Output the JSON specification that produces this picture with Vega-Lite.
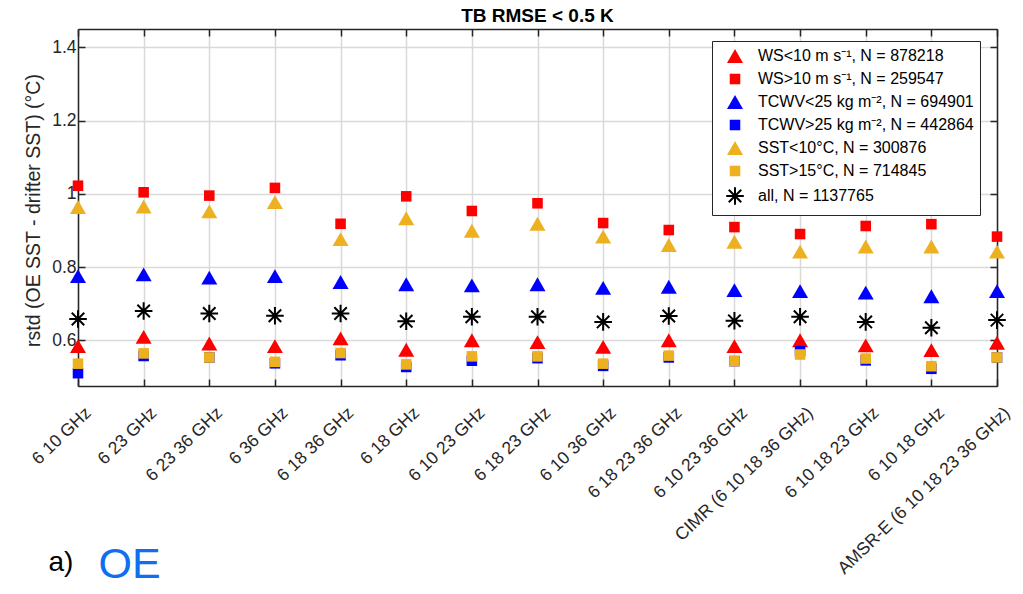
{
  "$schema": "https://vega.github.io/schema/vega-lite/v6.json",
  "width": 919,
  "height": 357,
  "autosize": {"type": "none"},
  "padding": {"left": 78, "top": 29, "right": 26, "bottom": 208},
  "background": "white",
  "config": {"font": "Liberation Sans", "view": {"stroke": null}},
  "title": {"text": "TB RMSE < 0.5 K", "fontSize": 19, "fontWeight": "bold", "color": "#000000", "offset": 2, "anchor": "middle"},
  "datasets": {
    "pts": [
      {"cat": "6 10 GHz", "series": "WS<10 m s⁻¹, N = 878218", "v": 0.584},
      {"cat": "6 10 GHz", "series": "WS>10 m s⁻¹, N = 259547", "v": 1.022},
      {"cat": "6 10 GHz", "series": "TCWV<25 kg m⁻², N = 694901", "v": 0.775},
      {"cat": "6 10 GHz", "series": "TCWV>25 kg m⁻², N = 442864", "v": 0.510},
      {"cat": "6 10 GHz", "series": "SST<10°C, N = 300876", "v": 0.964},
      {"cat": "6 10 GHz", "series": "SST>15°C, N = 714845", "v": 0.536},
      {"cat": "6 10 GHz", "series": "all, N = 1137765", "v": 0.658},

      {"cat": "6 23 GHz", "series": "WS<10 m s⁻¹, N = 878218", "v": 0.609},
      {"cat": "6 23 GHz", "series": "WS>10 m s⁻¹, N = 259547", "v": 1.004},
      {"cat": "6 23 GHz", "series": "TCWV<25 kg m⁻², N = 694901", "v": 0.780},
      {"cat": "6 23 GHz", "series": "TCWV>25 kg m⁻², N = 442864", "v": 0.557},
      {"cat": "6 23 GHz", "series": "SST<10°C, N = 300876", "v": 0.965},
      {"cat": "6 23 GHz", "series": "SST>15°C, N = 714845", "v": 0.564},
      {"cat": "6 23 GHz", "series": "all, N = 1137765", "v": 0.680},

      {"cat": "6 23 36 GHz", "series": "WS<10 m s⁻¹, N = 878218", "v": 0.591},
      {"cat": "6 23 36 GHz", "series": "WS>10 m s⁻¹, N = 259547", "v": 0.995},
      {"cat": "6 23 36 GHz", "series": "TCWV<25 kg m⁻², N = 694901", "v": 0.771},
      {"cat": "6 23 36 GHz", "series": "TCWV>25 kg m⁻², N = 442864", "v": 0.553},
      {"cat": "6 23 36 GHz", "series": "SST<10°C, N = 300876", "v": 0.952},
      {"cat": "6 23 36 GHz", "series": "SST>15°C, N = 714845", "v": 0.553},
      {"cat": "6 23 36 GHz", "series": "all, N = 1137765", "v": 0.673},

      {"cat": "6 36 GHz", "series": "WS<10 m s⁻¹, N = 878218", "v": 0.584},
      {"cat": "6 36 GHz", "series": "WS>10 m s⁻¹, N = 259547", "v": 1.016},
      {"cat": "6 36 GHz", "series": "TCWV<25 kg m⁻², N = 694901", "v": 0.775},
      {"cat": "6 36 GHz", "series": "TCWV>25 kg m⁻², N = 442864", "v": 0.537},
      {"cat": "6 36 GHz", "series": "SST<10°C, N = 300876", "v": 0.977},
      {"cat": "6 36 GHz", "series": "SST>15°C, N = 714845", "v": 0.541},
      {"cat": "6 36 GHz", "series": "all, N = 1137765", "v": 0.667},

      {"cat": "6 18 36 GHz", "series": "WS<10 m s⁻¹, N = 878218", "v": 0.605},
      {"cat": "6 18 36 GHz", "series": "WS>10 m s⁻¹, N = 259547", "v": 0.918},
      {"cat": "6 18 36 GHz", "series": "TCWV<25 kg m⁻², N = 694901", "v": 0.759},
      {"cat": "6 18 36 GHz", "series": "TCWV>25 kg m⁻², N = 442864", "v": 0.559},
      {"cat": "6 18 36 GHz", "series": "SST<10°C, N = 300876", "v": 0.876},
      {"cat": "6 18 36 GHz", "series": "SST>15°C, N = 714845", "v": 0.565},
      {"cat": "6 18 36 GHz", "series": "all, N = 1137765", "v": 0.673},

      {"cat": "6 18 GHz", "series": "WS<10 m s⁻¹, N = 878218", "v": 0.574},
      {"cat": "6 18 GHz", "series": "WS>10 m s⁻¹, N = 259547", "v": 0.993},
      {"cat": "6 18 GHz", "series": "TCWV<25 kg m⁻², N = 694901", "v": 0.753},
      {"cat": "6 18 GHz", "series": "TCWV>25 kg m⁻², N = 442864", "v": 0.527},
      {"cat": "6 18 GHz", "series": "SST<10°C, N = 300876", "v": 0.933},
      {"cat": "6 18 GHz", "series": "SST>15°C, N = 714845", "v": 0.534},
      {"cat": "6 18 GHz", "series": "all, N = 1137765", "v": 0.652},

      {"cat": "6 10 23 GHz", "series": "WS<10 m s⁻¹, N = 878218", "v": 0.600},
      {"cat": "6 10 23 GHz", "series": "WS>10 m s⁻¹, N = 259547", "v": 0.953},
      {"cat": "6 10 23 GHz", "series": "TCWV<25 kg m⁻², N = 694901", "v": 0.750},
      {"cat": "6 10 23 GHz", "series": "TCWV>25 kg m⁻², N = 442864", "v": 0.544},
      {"cat": "6 10 23 GHz", "series": "SST<10°C, N = 300876", "v": 0.899},
      {"cat": "6 10 23 GHz", "series": "SST>15°C, N = 714845", "v": 0.556},
      {"cat": "6 10 23 GHz", "series": "all, N = 1137765", "v": 0.664},

      {"cat": "6 18 23 GHz", "series": "WS<10 m s⁻¹, N = 878218", "v": 0.595},
      {"cat": "6 18 23 GHz", "series": "WS>10 m s⁻¹, N = 259547", "v": 0.974},
      {"cat": "6 18 23 GHz", "series": "TCWV<25 kg m⁻², N = 694901", "v": 0.753},
      {"cat": "6 18 23 GHz", "series": "TCWV>25 kg m⁻², N = 442864", "v": 0.551},
      {"cat": "6 18 23 GHz", "series": "SST<10°C, N = 300876", "v": 0.918},
      {"cat": "6 18 23 GHz", "series": "SST>15°C, N = 714845", "v": 0.556},
      {"cat": "6 18 23 GHz", "series": "all, N = 1137765", "v": 0.664},

      {"cat": "6 10 36 GHz", "series": "WS<10 m s⁻¹, N = 878218", "v": 0.582},
      {"cat": "6 10 36 GHz", "series": "WS>10 m s⁻¹, N = 259547", "v": 0.920},
      {"cat": "6 10 36 GHz", "series": "TCWV<25 kg m⁻², N = 694901", "v": 0.743},
      {"cat": "6 10 36 GHz", "series": "TCWV>25 kg m⁻², N = 442864", "v": 0.530},
      {"cat": "6 10 36 GHz", "series": "SST<10°C, N = 300876", "v": 0.883},
      {"cat": "6 10 36 GHz", "series": "SST>15°C, N = 714845", "v": 0.536},
      {"cat": "6 10 36 GHz", "series": "all, N = 1137765", "v": 0.650},

      {"cat": "6 18 23 36 GHz", "series": "WS<10 m s⁻¹, N = 878218", "v": 0.600},
      {"cat": "6 18 23 36 GHz", "series": "WS>10 m s⁻¹, N = 259547", "v": 0.901},
      {"cat": "6 18 23 36 GHz", "series": "TCWV<25 kg m⁻², N = 694901", "v": 0.746},
      {"cat": "6 18 23 36 GHz", "series": "TCWV>25 kg m⁻², N = 442864", "v": 0.553},
      {"cat": "6 18 23 36 GHz", "series": "SST<10°C, N = 300876", "v": 0.860},
      {"cat": "6 18 23 36 GHz", "series": "SST>15°C, N = 714845", "v": 0.558},
      {"cat": "6 18 23 36 GHz", "series": "all, N = 1137765", "v": 0.666},

      {"cat": "6 10 23 36 GHz", "series": "WS<10 m s⁻¹, N = 878218", "v": 0.584},
      {"cat": "6 10 23 36 GHz", "series": "WS>10 m s⁻¹, N = 259547", "v": 0.909},
      {"cat": "6 10 23 36 GHz", "series": "TCWV<25 kg m⁻², N = 694901", "v": 0.737},
      {"cat": "6 10 23 36 GHz", "series": "TCWV>25 kg m⁻², N = 442864", "v": 0.543},
      {"cat": "6 10 23 36 GHz", "series": "SST<10°C, N = 300876", "v": 0.869},
      {"cat": "6 10 23 36 GHz", "series": "SST>15°C, N = 714845", "v": 0.543},
      {"cat": "6 10 23 36 GHz", "series": "all, N = 1137765", "v": 0.653},

      {"cat": "CIMR (6 10 18 36 GHz)", "series": "WS<10 m s⁻¹, N = 878218", "v": 0.600},
      {"cat": "CIMR (6 10 18 36 GHz)", "series": "WS>10 m s⁻¹, N = 259547", "v": 0.890},
      {"cat": "CIMR (6 10 18 36 GHz)", "series": "TCWV<25 kg m⁻², N = 694901", "v": 0.734},
      {"cat": "CIMR (6 10 18 36 GHz)", "series": "TCWV>25 kg m⁻², N = 442864", "v": 0.570},
      {"cat": "CIMR (6 10 18 36 GHz)", "series": "SST<10°C, N = 300876", "v": 0.842},
      {"cat": "CIMR (6 10 18 36 GHz)", "series": "SST>15°C, N = 714845", "v": 0.561},
      {"cat": "CIMR (6 10 18 36 GHz)", "series": "all, N = 1137765", "v": 0.664},

      {"cat": "6 10 18 23 GHz", "series": "WS<10 m s⁻¹, N = 878218", "v": 0.586},
      {"cat": "6 10 18 23 GHz", "series": "WS>10 m s⁻¹, N = 259547", "v": 0.912},
      {"cat": "6 10 18 23 GHz", "series": "TCWV<25 kg m⁻², N = 694901", "v": 0.730},
      {"cat": "6 10 18 23 GHz", "series": "TCWV>25 kg m⁻², N = 442864", "v": 0.545},
      {"cat": "6 10 18 23 GHz", "series": "SST<10°C, N = 300876", "v": 0.856},
      {"cat": "6 10 18 23 GHz", "series": "SST>15°C, N = 714845", "v": 0.550},
      {"cat": "6 10 18 23 GHz", "series": "all, N = 1137765", "v": 0.650},

      {"cat": "6 10 18 GHz", "series": "WS<10 m s⁻¹, N = 878218", "v": 0.573},
      {"cat": "6 10 18 GHz", "series": "WS>10 m s⁻¹, N = 259547", "v": 0.917},
      {"cat": "6 10 18 GHz", "series": "TCWV<25 kg m⁻², N = 694901", "v": 0.720},
      {"cat": "6 10 18 GHz", "series": "TCWV>25 kg m⁻², N = 442864", "v": 0.522},
      {"cat": "6 10 18 GHz", "series": "SST<10°C, N = 300876", "v": 0.856},
      {"cat": "6 10 18 GHz", "series": "SST>15°C, N = 714845", "v": 0.529},
      {"cat": "6 10 18 GHz", "series": "all, N = 1137765", "v": 0.634},

      {"cat": "AMSR-E (6 10 18 23 36 GHz)", "series": "WS<10 m s⁻¹, N = 878218", "v": 0.593},
      {"cat": "AMSR-E (6 10 18 23 36 GHz)", "series": "WS>10 m s⁻¹, N = 259547", "v": 0.883},
      {"cat": "AMSR-E (6 10 18 23 36 GHz)", "series": "TCWV<25 kg m⁻², N = 694901", "v": 0.734},
      {"cat": "AMSR-E (6 10 18 23 36 GHz)", "series": "TCWV>25 kg m⁻², N = 442864", "v": 0.553},
      {"cat": "AMSR-E (6 10 18 23 36 GHz)", "series": "SST<10°C, N = 300876", "v": 0.842},
      {"cat": "AMSR-E (6 10 18 23 36 GHz)", "series": "SST>15°C, N = 714845", "v": 0.553},
      {"cat": "AMSR-E (6 10 18 23 36 GHz)", "series": "all, N = 1137765", "v": 0.655}
    ]
  },
  "data": {"name": "pts"},
  "layer": [
    {
      "transform": [{"filter": "datum.series !== 'all, N = 1137765'"}],
      "mark": {"type": "point", "filled": true, "size": 256, "strokeWidth": 2, "opacity": 1},
      "encoding": {
        "x": {
          "field": "cat", "type": "nominal", "sort": null,
          "scale": {"type": "point", "padding": 0, "domain": ["6 10 GHz","6 23 GHz","6 23 36 GHz","6 36 GHz","6 18 36 GHz","6 18 GHz","6 10 23 GHz","6 18 23 GHz","6 10 36 GHz","6 18 23 36 GHz","6 10 23 36 GHz","CIMR (6 10 18 36 GHz)","6 10 18 23 GHz","6 10 18 GHz","AMSR-E (6 10 18 23 36 GHz)"]},
          "axis": {
            "orient": "bottom", "title": "a)", "titleX": -30, "titleY": 184, "titleAlign": "left", "titleBaseline": "alphabetic", "titleAngle": 0,
            "titleFontSize": 28, "titleFontWeight": "normal", "titleColor": "#000000",
            "grid": true, "gridColor": "#d9d9d9", "gridWidth": 1.5,
            "ticks": true, "tickSize": -7, "tickColor": "#262626", "tickWidth": 1.5,
            "domain": true, "domainColor": "#262626", "domainWidth": 1.5,
            "labelAngle": -44, "labelAlign": "right", "labelBaseline": "middle", "labelOffset": 10, "labelPadding": 31,
            "labelFontSize": 17.5, "labelColor": "#262626", "labelOverlap": false, "labelBound": false, "labelLimit": 0
          }
        },
        "y": {
          "field": "v", "type": "quantitative",
          "scale": {"domain": [0.475, 1.45], "nice": false, "zero": false},
          "axis": {
            "orient": "left", "title": "rstd (OE SST - drifter SST) (°C)", "titleX": -45, "titleY": 181, "titleAlign": "center", "titleBaseline": "middle", "titleAngle": -90,
            "titleFontSize": 19.5, "titleFontWeight": "normal", "titleColor": "#262626",
            "values": [0.6, 0.8, 1, 1.2, 1.4], "format": "~g",
            "grid": true, "gridColor": "#d9d9d9", "gridWidth": 1.5,
            "tickSize": -7, "tickColor": "#262626", "tickWidth": 1.5,
            "domainColor": "#262626", "domainWidth": 1.5,
            "labelFontSize": 17.5, "labelColor": "#262626", "labelPadding": 9
          }
        },
        "color": {
          "field": "series", "type": "nominal",
          "scale": {"domain": ["WS<10 m s⁻¹, N = 878218","WS>10 m s⁻¹, N = 259547","TCWV<25 kg m⁻², N = 694901","TCWV>25 kg m⁻², N = 442864","SST<10°C, N = 300876","SST>15°C, N = 714845","all, N = 1137765"],
                    "range": ["#ff0000","#ff0000","#0000ff","#0000ff","#edb120","#edb120","#000000"]},
          "legend": {
            "title": null, "orient": "none", "legendX": 634, "legendY": 12,
            "padding": 6, "strokeColor": "#262626", "fillColor": "#ffffff",
            "labelFontSize": 16, "labelColor": "#000000", "labelLimit": 0, "labelOffset": 14,
            "symbolSize": 256, "symbolOffset": 8, "symbolStrokeWidth": 2, "rowPadding": 2
          }
        },
        "stroke": {
          "field": "series", "type": "nominal",
          "scale": {"domain": ["WS<10 m s⁻¹, N = 878218","WS>10 m s⁻¹, N = 259547","TCWV<25 kg m⁻², N = 694901","TCWV>25 kg m⁻², N = 442864","SST<10°C, N = 300876","SST>15°C, N = 714845","all, N = 1137765"],
                    "range": ["transparent","transparent","transparent","transparent","transparent","transparent","#000000"]},
          "legend": {
            "title": null, "orient": "none", "legendX": 634, "legendY": 12,
            "padding": 6, "strokeColor": "#262626", "fillColor": "#ffffff",
            "labelFontSize": 16, "labelColor": "#000000", "labelLimit": 0, "labelOffset": 14,
            "symbolSize": 256, "symbolOffset": 8, "symbolStrokeWidth": 2, "rowPadding": 2
          }
        },
        "shape": {
          "field": "series", "type": "nominal",
          "scale": {"domain": ["WS<10 m s⁻¹, N = 878218","WS>10 m s⁻¹, N = 259547","TCWV<25 kg m⁻², N = 694901","TCWV>25 kg m⁻², N = 442864","SST<10°C, N = 300876","SST>15°C, N = 714845","all, N = 1137765"],
                    "range": ["M0,-0.866L1,0.866L-1,0.866Z","M-0.66,-0.66L0.66,-0.66L0.66,0.66L-0.66,0.66Z","M0,-0.866L1,0.866L-1,0.866Z","M-0.66,-0.66L0.66,-0.66L0.66,0.66L-0.66,0.66Z","M0,-0.866L1,0.866L-1,0.866Z","M-0.66,-0.66L0.66,-0.66L0.66,0.66L-0.66,0.66Z","M-1.1,0L1.1,0M0,-1.1L0,1.1M-0.78,-0.78L0.78,0.78M-0.78,0.78L0.78,-0.78"]},
          "legend": {
            "title": null, "orient": "none", "legendX": 634, "legendY": 12,
            "padding": 6, "strokeColor": "#262626", "fillColor": "#ffffff",
            "labelFontSize": 16, "labelColor": "#000000", "labelLimit": 0, "labelOffset": 14,
            "symbolSize": 256, "symbolOffset": 8, "symbolStrokeWidth": 2, "rowPadding": 2
          }
        }
      }
    },
    {
      "transform": [{"filter": "datum.series === 'all, N = 1137765'"}],
      "mark": {"type": "point", "filled": true, "size": 256, "strokeWidth": 2, "opacity": 1},
      "encoding": {
        "x": {
          "field": "cat", "type": "nominal", "sort": null,
          "scale": {"type": "point", "padding": 0, "domain": ["6 10 GHz","6 23 GHz","6 23 36 GHz","6 36 GHz","6 18 36 GHz","6 18 GHz","6 10 23 GHz","6 18 23 GHz","6 10 36 GHz","6 18 23 36 GHz","6 10 23 36 GHz","CIMR (6 10 18 36 GHz)","6 10 18 23 GHz","6 10 18 GHz","AMSR-E (6 10 18 23 36 GHz)"]},
          "axis": {
            "orient": "top", "title": null, "labels": false, "grid": false,
            "tickSize": -7, "tickColor": "#262626", "tickWidth": 1.5,
            "domainColor": "#262626", "domainWidth": 1.5
          }
        },
        "y": {
          "field": "v", "type": "quantitative",
          "scale": {"domain": [0.475, 1.45], "nice": false, "zero": false},
          "axis": {
            "orient": "right", "labels": false, "grid": false,
            "values": [0.6, 0.8, 1, 1.2, 1.4],
            "tickSize": -7, "tickColor": "#262626", "tickWidth": 1.5,
            "domainColor": "#262626", "domainWidth": 1.5,
            "title": "OE", "titleAngle": 0, "titleX": -899, "titleY": 548, "titleAlign": "left", "titleBaseline": "alphabetic",
            "titleFontSize": 43, "titleFontWeight": "normal", "titleColor": "#0f6ff0"
          }
        },
        "color": {
          "field": "series", "type": "nominal",
          "scale": {"domain": ["WS<10 m s⁻¹, N = 878218","WS>10 m s⁻¹, N = 259547","TCWV<25 kg m⁻², N = 694901","TCWV>25 kg m⁻², N = 442864","SST<10°C, N = 300876","SST>15°C, N = 714845","all, N = 1137765"],
                    "range": ["#ff0000","#ff0000","#0000ff","#0000ff","#edb120","#edb120","#000000"]}
        },
        "stroke": {
          "field": "series", "type": "nominal",
          "scale": {"domain": ["WS<10 m s⁻¹, N = 878218","WS>10 m s⁻¹, N = 259547","TCWV<25 kg m⁻², N = 694901","TCWV>25 kg m⁻², N = 442864","SST<10°C, N = 300876","SST>15°C, N = 714845","all, N = 1137765"],
                    "range": ["transparent","transparent","transparent","transparent","transparent","transparent","#000000"]}
        },
        "shape": {
          "field": "series", "type": "nominal",
          "scale": {"domain": ["WS<10 m s⁻¹, N = 878218","WS>10 m s⁻¹, N = 259547","TCWV<25 kg m⁻², N = 694901","TCWV>25 kg m⁻², N = 442864","SST<10°C, N = 300876","SST>15°C, N = 714845","all, N = 1137765"],
                    "range": ["M0,-0.866L1,0.866L-1,0.866Z","M-0.66,-0.66L0.66,-0.66L0.66,0.66L-0.66,0.66Z","M0,-0.866L1,0.866L-1,0.866Z","M-0.66,-0.66L0.66,-0.66L0.66,0.66L-0.66,0.66Z","M0,-0.866L1,0.866L-1,0.866Z","M-0.66,-0.66L0.66,-0.66L0.66,0.66L-0.66,0.66Z","M-1.1,0L1.1,0M0,-1.1L0,1.1M-0.78,-0.78L0.78,0.78M-0.78,0.78L0.78,-0.78"]}
        }
      }
    }
  ],
  "resolve": {"scale": {"x": "independent", "y": "independent"}}
}
